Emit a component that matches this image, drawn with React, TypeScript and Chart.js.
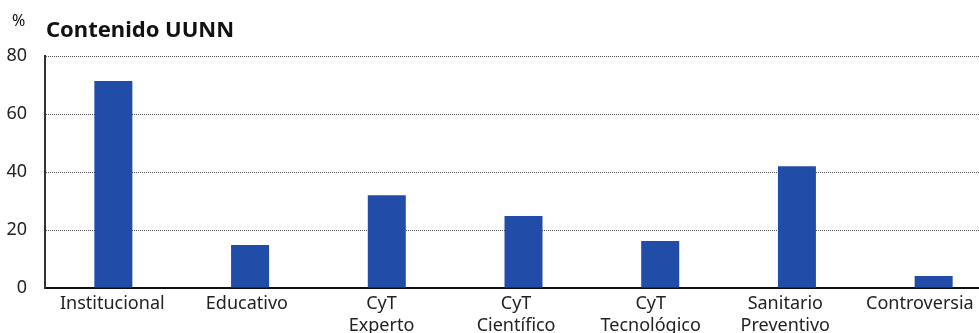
import React, { useEffect, useRef } from "react";
import { Chart, registerables } from "chart.js";

Chart.register(...registerables);

const categories: (string | string[])[] = [
  "Institucional",
  "Educativo",
  ["CyT", "Experto"],
  ["CyT", "Científico"],
  ["CyT", "Tecnológico"],
  ["Sanitario", "Preventivo"],
  "Controversia",
];
const values: number[] = [71.4, 14.8, 32, 24.8, 16.2, 42, 4.1];
const yTicks: number[] = [0, 20, 40, 60, 80];
const titleText = "Contenido UUNN";
const unitText = "%";

const FONT = "'Noto Sans', 'Open Sans', sans-serif";

const textPlugin = {
  id: "textPlugin",
  afterDraw(chart: any) {
    const ctx = chart.ctx;
    ctx.save();
    ctx.fillStyle = "#111";
    ctx.textBaseline = "alphabetic";
    ctx.textAlign = "left";
    ctx.font = `bold 22px ${FONT}`;
    ctx.fillText(titleText, 46, 37);
    ctx.font = `16px ${FONT}`;
    ctx.fillText(unitText, 12, 26);
    ctx.restore();
  },
};

export default function App() {
  const ref = useRef<HTMLCanvasElement>(null);
  useEffect(() => {
    if (!ref.current) return;
    const chart = new Chart(ref.current, {
      type: "bar",
      data: {
        labels: categories,
        datasets: [
          {
            data: values,
            backgroundColor: "#214DA8",
            borderWidth: 0,
            barPercentage: 0.278,
            categoryPercentage: 1,
            xAxisID: "x",
          },
        ],
      },
      options: {
        animation: false,
        responsive: true,
        maintainAspectRatio: false,
        layout: { padding: { top: 56, right: 3, left: 0, bottom: 0 } },
        plugins: {
          legend: { display: false },
          tooltip: { enabled: false },
          title: { display: false },
        },
        scales: {
          x: {
            position: "bottom",
            grid: { display: false, drawTicks: false },
            border: { display: true, color: "#111", width: 2 },
            ticks: { display: false },
            afterFit(scale: any) {
              scale.height = 0;
            },
          },
          xl: {
            type: "linear",
            position: "bottom",
            offset: false,
            min: -0.5,
            max: 6.61,
            afterBuildTicks(scale: any) {
              scale.ticks = categories.map((_, i) => ({ value: i }));
            },
            grid: { display: false, drawTicks: false, offset: false },
            border: { display: false },
            ticks: {
              color: "#222",
              font: { family: FONT, size: 18 },
              padding: 5,
              maxRotation: 0,
              autoSkip: false,
              callback: (v: number) => categories[v] ?? "",
            },
            afterFit(scale: any) {
              scale.height = 57;
            },
          },
          y: {
            min: 0,
            max: 80,
            afterBuildTicks(scale: any) {
              scale.ticks = yTicks.map((v) => ({ value: v }));
            },
            grid: {
              color: "#555",
              lineWidth: 1,
              drawTicks: false,
            },
            border: { display: true, color: "#333", width: 2, dash: [1, 1] },
            ticks: {
              color: "#222",
              font: { family: FONT, size: 18 },
              padding: 18,
            },
            afterFit(scale: any) {
              scale.width = 45;
            },
          },
        },
      },
      plugins: [textPlugin],
    } as any);
    return () => chart.destroy();
  }, []);
  return (
    <div style={{ position: "fixed", left: 0, top: 0, width: 1005, height: 345 }}>
      <canvas ref={ref} />
    </div>
  );
}
